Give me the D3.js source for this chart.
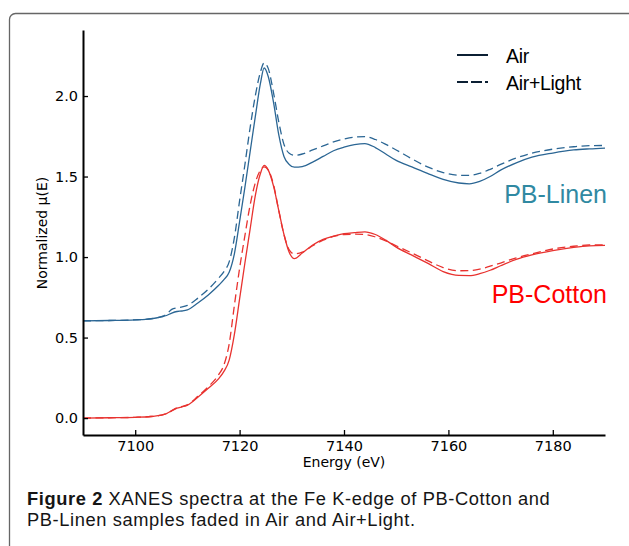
<!DOCTYPE html>
<html>
<head>
<meta charset="utf-8">
<script src="https://d3js.org/d3.v7.min.js"></script>
<style>
  body { margin: 0; background: #fff; }
  svg { display: block; }
  .axis path, .axis line { stroke: #000; }
  .axis text { font-family: "DejaVu Sans", sans-serif; font-size: 14.5px; fill: #000; }
</style>
</head>
<body>
<script>
// energy grid (eV)
var energy = [7090, 7095, 7100, 7103, 7105, 7106, 7107, 7108, 7109, 7110, 7112, 7114, 7116, 7117, 7118, 7119,
  7120, 7121, 7122, 7123, 7124, 7124.7, 7125.5, 7126.5, 7127.5, 7128.5, 7129.5, 7130.5, 7132, 7134, 7136, 7138,
  7140, 7142, 7144, 7146, 7148, 7150, 7153, 7156, 7159, 7162, 7164, 7166, 7168, 7170, 7173, 7176, 7180, 7184, 7187, 7190];

var linenAir = [0.604, 0.606, 0.610, 0.616, 0.628, 0.637, 0.652, 0.662, 0.665, 0.672, 0.715, 0.765, 0.825, 0.860, 0.905, 1.020,
  1.220, 1.430, 1.650, 1.870, 2.080, 2.174, 2.120, 1.960, 1.760, 1.625, 1.575, 1.558, 1.562, 1.590, 1.625, 1.660,
  1.682, 1.698, 1.705, 1.680, 1.640, 1.600, 1.560, 1.520, 1.483, 1.460, 1.455, 1.470, 1.500, 1.540, 1.585, 1.620, 1.646, 1.665, 1.672, 1.677];

var linenLight = [0.604, 0.606, 0.610, 0.617, 0.630, 0.645, 0.675, 0.685, 0.690, 0.700, 0.745, 0.800, 0.870, 0.910, 0.970, 1.120,
  1.350, 1.570, 1.800, 2.000, 2.150, 2.205, 2.170, 2.020, 1.840, 1.700, 1.645, 1.632, 1.640, 1.665, 1.690, 1.715,
  1.733, 1.745, 1.748, 1.730, 1.700, 1.665, 1.610, 1.560, 1.525, 1.508, 1.507, 1.520, 1.545, 1.575, 1.615, 1.645, 1.670, 1.685, 1.692, 1.693];

var cottonAir = [0.000, 0.002, 0.005, 0.010, 0.018, 0.028, 0.045, 0.062, 0.070, 0.080, 0.130, 0.185, 0.245, 0.290, 0.360, 0.520,
  0.740, 0.960, 1.170, 1.380, 1.520, 1.569, 1.540, 1.440, 1.290, 1.140, 1.030, 0.990, 1.025, 1.075, 1.110, 1.130,
  1.145, 1.152, 1.157, 1.140, 1.105, 1.062, 1.012, 0.962, 0.910, 0.886, 0.885, 0.897, 0.918, 0.946, 0.985, 1.013, 1.040, 1.060, 1.070, 1.073];

var cottonLight = [0.000, 0.002, 0.005, 0.010, 0.018, 0.028, 0.047, 0.064, 0.072, 0.082, 0.135, 0.195, 0.270, 0.330, 0.460, 0.700,
  0.930, 1.130, 1.320, 1.460, 1.540, 1.560, 1.540, 1.450, 1.290, 1.140, 1.045, 1.020, 1.030, 1.070, 1.105, 1.128,
  1.140, 1.142, 1.140, 1.125, 1.100, 1.070, 1.025, 0.978, 0.935, 0.915, 0.916, 0.925, 0.943, 0.963, 0.995, 1.020, 1.050, 1.067, 1.075, 1.075];

var xTicks = [7100, 7120, 7140, 7160, 7180];
var yTicks = [0.0, 0.5, 1.0, 1.5, 2.0];
var legendLabels = ["Air", "Air+Light"];
var sampleLabels = ["PB-Linen", "PB-Cotton"];

var width = 629, height = 546;
var blue = "#2b6694", red = "#e8322f";

var svg = d3.select("body").append("svg")
  .attr("width", width)
  .attr("height", height);

// figure frame
svg.append("rect")
  .attr("x", 9.5).attr("y", 13.5)
  .attr("width", 700).attr("height", 600)
  .attr("rx", 6)
  .style("fill", "none")
  .style("stroke", "#666")
  .style("stroke-width", 1.3);

var x = d3.scaleLinear().domain([7090, 7190]).range([83, 605]);
var y = d3.scaleLinear().domain([-0.105, 2.41]).range([435, 30]);

var line = function(vals) {
  return d3.line()
    .x(function(d, i) { return x(energy[i]); })
    .y(function(d) { return y(d); })
    .curve(d3.curveMonotoneX)(vals);
};

var series = [
  { v: linenAir, c: blue, dash: null },
  { v: linenLight, c: blue, dash: "8,4.5" },
  { v: cottonAir, c: red, dash: null },
  { v: cottonLight, c: red, dash: "8,4.5" }
];

svg.selectAll("path.curve")
  .data(series)
  .enter().append("path")
  .attr("class", "curve")
  .attr("d", function(d) { return line(d.v); })
  .style("fill", "none")
  .style("stroke", function(d) { return d.c; })
  .style("stroke-width", 1.3)
  .style("stroke-dasharray", function(d) { return d.dash; });

// axes (only left and bottom spines, ticks pointing in)
var gx = svg.append("g").attr("class", "axis")
  .attr("transform", "translate(0,435)")
  .call(d3.axisBottom(x).tickValues(xTicks).tickFormat(d3.format("d"))
    .tickSizeInner(-5).tickSizeOuter(0).tickPadding(6));
var gy = svg.append("g").attr("class", "axis")
  .attr("transform", "translate(83,0)")
  .call(d3.axisLeft(y).tickValues(yTicks).tickFormat(d3.format(".1f"))
    .tickSizeInner(-5).tickSizeOuter(0).tickPadding(5));
svg.selectAll(".axis .domain").style("stroke-width", 2);
svg.selectAll(".axis .tick line").style("stroke-width", 1.3);

svg.append("text")
  .attr("x", 344).attr("y", 467)
  .attr("text-anchor", "middle")
  .style("font-family", "DejaVu Sans, sans-serif")
  .style("font-size", "14px")
  .text("Energy (eV)");

svg.append("text")
  .attr("transform", "translate(47,233) rotate(-90)")
  .attr("text-anchor", "middle")
  .style("font-family", "DejaVu Sans, sans-serif")
  .style("font-size", "14px")
  .text("Normalized \u03bc(E)");

// legend
var leg = svg.append("g");
legendLabels.forEach(function(lab, i) {
  var ly = 55 + i * 27;
  leg.append("line")
    .attr("x1", 457).attr("x2", 488)
    .attr("y1", ly).attr("y2", ly)
    .style("stroke", "#0b1f33")
    .style("stroke-width", 2)
    .style("stroke-dasharray", i ? "11,3" : null);
  leg.append("text")
    .attr("x", 506).attr("y", ly + 8)
    .style("font-family", "Liberation Sans, Arial, sans-serif")
    .style("font-size", "19.5px")
    .style("letter-spacing", "-0.3px")
    .text(lab);
});

// sample labels
svg.append("text")
  .attr("x", 607).attr("y", 203)
  .attr("text-anchor", "end")
  .style("font-family", "Liberation Sans, Arial, sans-serif")
  .style("font-size", "25px")
  .style("fill", "#3089a2")
  .text(sampleLabels[0]);
svg.append("text")
  .attr("x", 607).attr("y", 303)
  .attr("text-anchor", "end")
  .style("font-family", "Liberation Sans, Arial, sans-serif")
  .style("font-size", "25px")
  .style("fill", "#ff0000")
  .text(sampleLabels[1]);

// caption
var capFont = "Liberation Sans, Arial, sans-serif";
var cap1 = svg.append("text")
  .attr("x", 27).attr("y", 505)
  .style("font-family", capFont)
  .style("font-size", "18.3px")
  .style("letter-spacing", "0.6px")
  .style("fill", "#151515");
cap1.append("tspan").style("font-weight", "bold").text("Figure 2");
cap1.append("tspan").text(" XANES spectra at the Fe K-edge of PB-Cotton and");
svg.append("text")
  .attr("x", 27).attr("y", 525.5)
  .style("font-family", capFont)
  .style("font-size", "18.3px")
  .style("letter-spacing", "0.6px")
  .style("fill", "#151515")
  .text("PB-Linen samples faded in Air and Air+Light.");
</script>
</body>
</html>
